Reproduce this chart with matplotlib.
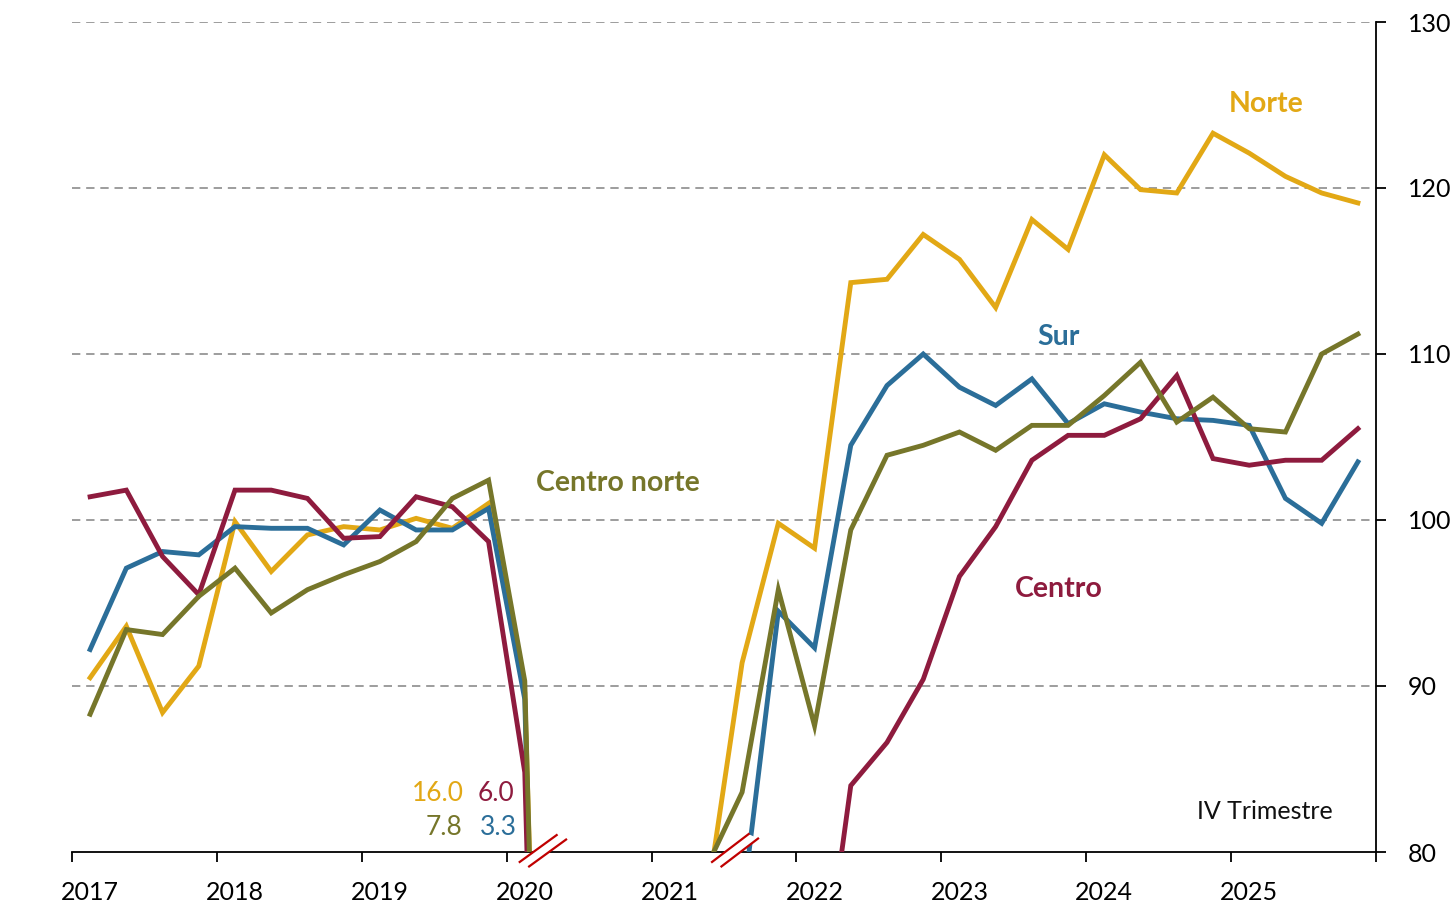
"""Indice regional trimestral: Norte, Centro norte, Centro, Sur."""
import numpy as np
import matplotlib
matplotlib.use("Agg")
import matplotlib.pyplot as plt
from matplotlib.patches import Polygon

plt.rcParams["font.family"] = ["Lato", "DejaVu Sans"]

nan = np.nan

# trimestres 2017T1 .. 2025T4 (36); valores fuera de escala (<80) no visibles -> nan
years = [2017, 2018, 2019, 2020, 2021, 2022, 2023, 2024, 2025]

norte = [90.5, 93.6, 88.4, 91.2, 99.9, 96.9, 99.1, 99.6, 99.4, 100.1, 99.5, 101.0,
         89.6, 16.0, nan, nan, nan, 76.7, 91.4, 99.8, 98.3, 114.3, 114.5, 117.2,
         115.7, 112.8, 118.1, 116.3, 122.0, 119.9, 119.7, 123.3, 122.1, 120.7, 119.7, 119.1]

centro_norte = [88.3, 93.4, 93.1, 95.4, 97.1, 94.4, 95.8, 96.7, 97.5, 98.7, 101.3, 102.4,
                90.3, 7.8, nan, nan, nan, 79.0, 83.6, 95.8, 87.6, 99.4, 103.9, 104.5,
                105.3, 104.2, 105.7, 105.7, 107.5, 109.5, 105.9, 107.4, 105.5, 105.3, 110.0, 111.2]

centro = [101.4, 101.8, 97.8, 95.5, 101.8, 101.8, 101.3, 98.9, 99.0, 101.4, 100.8, 98.7,
          84.8, 6.0, nan, nan, nan, nan, nan, nan, 68.0, 84.0, 86.6, 90.4,
          96.6, 99.6, 103.6, 105.1, 105.1, 106.1, 108.7, 103.7, 103.3, 103.6, 103.6, 105.5]

sur = [92.2, 97.1, 98.1, 97.9, 99.6, 99.5, 99.5, 98.5, 100.6, 99.4, 99.4, 100.7,
       89.2, 3.3, nan, nan, nan, nan, 76.6, 94.5, 92.3, 104.5, 108.1, 110.0,
       108.0, 106.9, 108.5, 105.8, 107.0, 106.5, 106.1, 106.0, 105.7, 101.3, 99.8, 103.5]

COLORS = {
    "norte": "#E2A815",
    "centro_norte": "#76762A",
    "centro": "#8E1B3E",
    "sur": "#2B6E99",
}

x = np.arange(len(norte)) + 0.5

fig = plt.figure(figsize=(14.55, 9.02), dpi=100)
ax = fig.add_axes([72 / 1455, 50 / 902, (1376 - 72) / 1455, (852 - 22) / 902])

ax.plot(x, norte, color=COLORS["norte"], lw=3.5, zorder=2, solid_joinstyle="miter")
ax.plot(x, sur, color=COLORS["sur"], lw=3.5, zorder=3, solid_joinstyle="miter")
ax.plot(x, centro, color=COLORS["centro"], lw=3.5, zorder=4, solid_joinstyle="miter")
ax.plot(x, centro_norte, color=COLORS["centro_norte"], lw=3.5, zorder=5, solid_joinstyle="miter")

ax.set_xlim(0, 36)
ax.set_ylim(80, 130)

# grid
for v in [90, 100, 110, 120, 130]:
    ax.axhline(v, color="#8C8C8C", lw=1.2, ls=(0, (5, 3.5)), zorder=1)

# spines / ticks
for s in ["left", "top"]:
    ax.spines[s].set_visible(False)
for s in ["bottom", "right"]:
    ax.spines[s].set_linewidth(1.3)
ax.yaxis.tick_right()
ax.set_yticks([80, 90, 100, 110, 120, 130])
ax.tick_params(axis="y", direction="out", length=7, width=1.3, labelsize=18, pad=16)
ax.set_xticks(np.arange(0, 37, 4))
ax.set_xticklabels([])
ax.set_xticks(np.arange(len(years)) * 4 + 0.5, minor=True)
ax.set_xticklabels([str(y) for y in years], minor=True)
ax.tick_params(axis="x", which="major", direction="out", length=7.5, width=1.3)
ax.tick_params(axis="x", which="minor", length=0, labelsize=18, pad=21)

# marcas de corte
def corte(x0, x1, y0, y1, dx=0.26, dy=-0.27):
    poly = Polygon([(x0, y0), (x1, y1), (x1 + dx, y1 + dy), (x0 + dx, y0 + dy)],
                   closed=True, facecolor="white", edgecolor="none", zorder=8, clip_on=False)
    ax.add_patch(poly)
    ax.plot([x0, x1], [y0, y1], color="#C00000", lw=1.6, zorder=9, clip_on=False)
    ax.plot([x0 + dx, x1 + dx], [y0 + dy, y1 + dy], color="#C00000", lw=1.6, zorder=9, clip_on=False)

corte(12.36, 13.38, 79.4, 81.02)
corte(17.67, 18.68, 79.4, 81.08)

# etiquetas de series
ax.text(32.98, 125.05, "Norte", color=COLORS["norte"], fontsize=20.5, fontweight="bold",
        ha="center", va="center")
ax.text(27.23, 111.0, "Sur", color=COLORS["sur"], fontsize=20.5, fontweight="bold",
        ha="center", va="center")
ax.text(15.08, 102.2, "Centro norte", color=COLORS["centro_norte"], fontsize=20.5,
        fontweight="bold", ha="center", va="center")
ax.text(27.25, 95.85, "Centro", color=COLORS["centro"], fontsize=20.5, fontweight="bold",
        ha="center", va="center")

# valores minimos 2020
ax.text(10.81, 83.55, f"{norte[13]:.1f}", color=COLORS["norte"], fontsize=19, ha="right", va="center")
ax.text(12.22, 83.55, f"{centro[13]:.1f}", color=COLORS["centro"], fontsize=19, ha="right", va="center")
ax.text(10.79, 81.45, f"{centro_norte[13]:.1f}", color=COLORS["centro_norte"], fontsize=19,
        ha="right", va="center")
ax.text(12.28, 81.45, f"{sur[13]:.1f}", color=COLORS["sur"], fontsize=19, ha="right", va="center")

ax.text(32.92, 82.45, "IV Trimestre", color="#111111", fontsize=18, ha="center", va="center")

fig.savefig("out.png", dpi=100)
plt.close(fig)
